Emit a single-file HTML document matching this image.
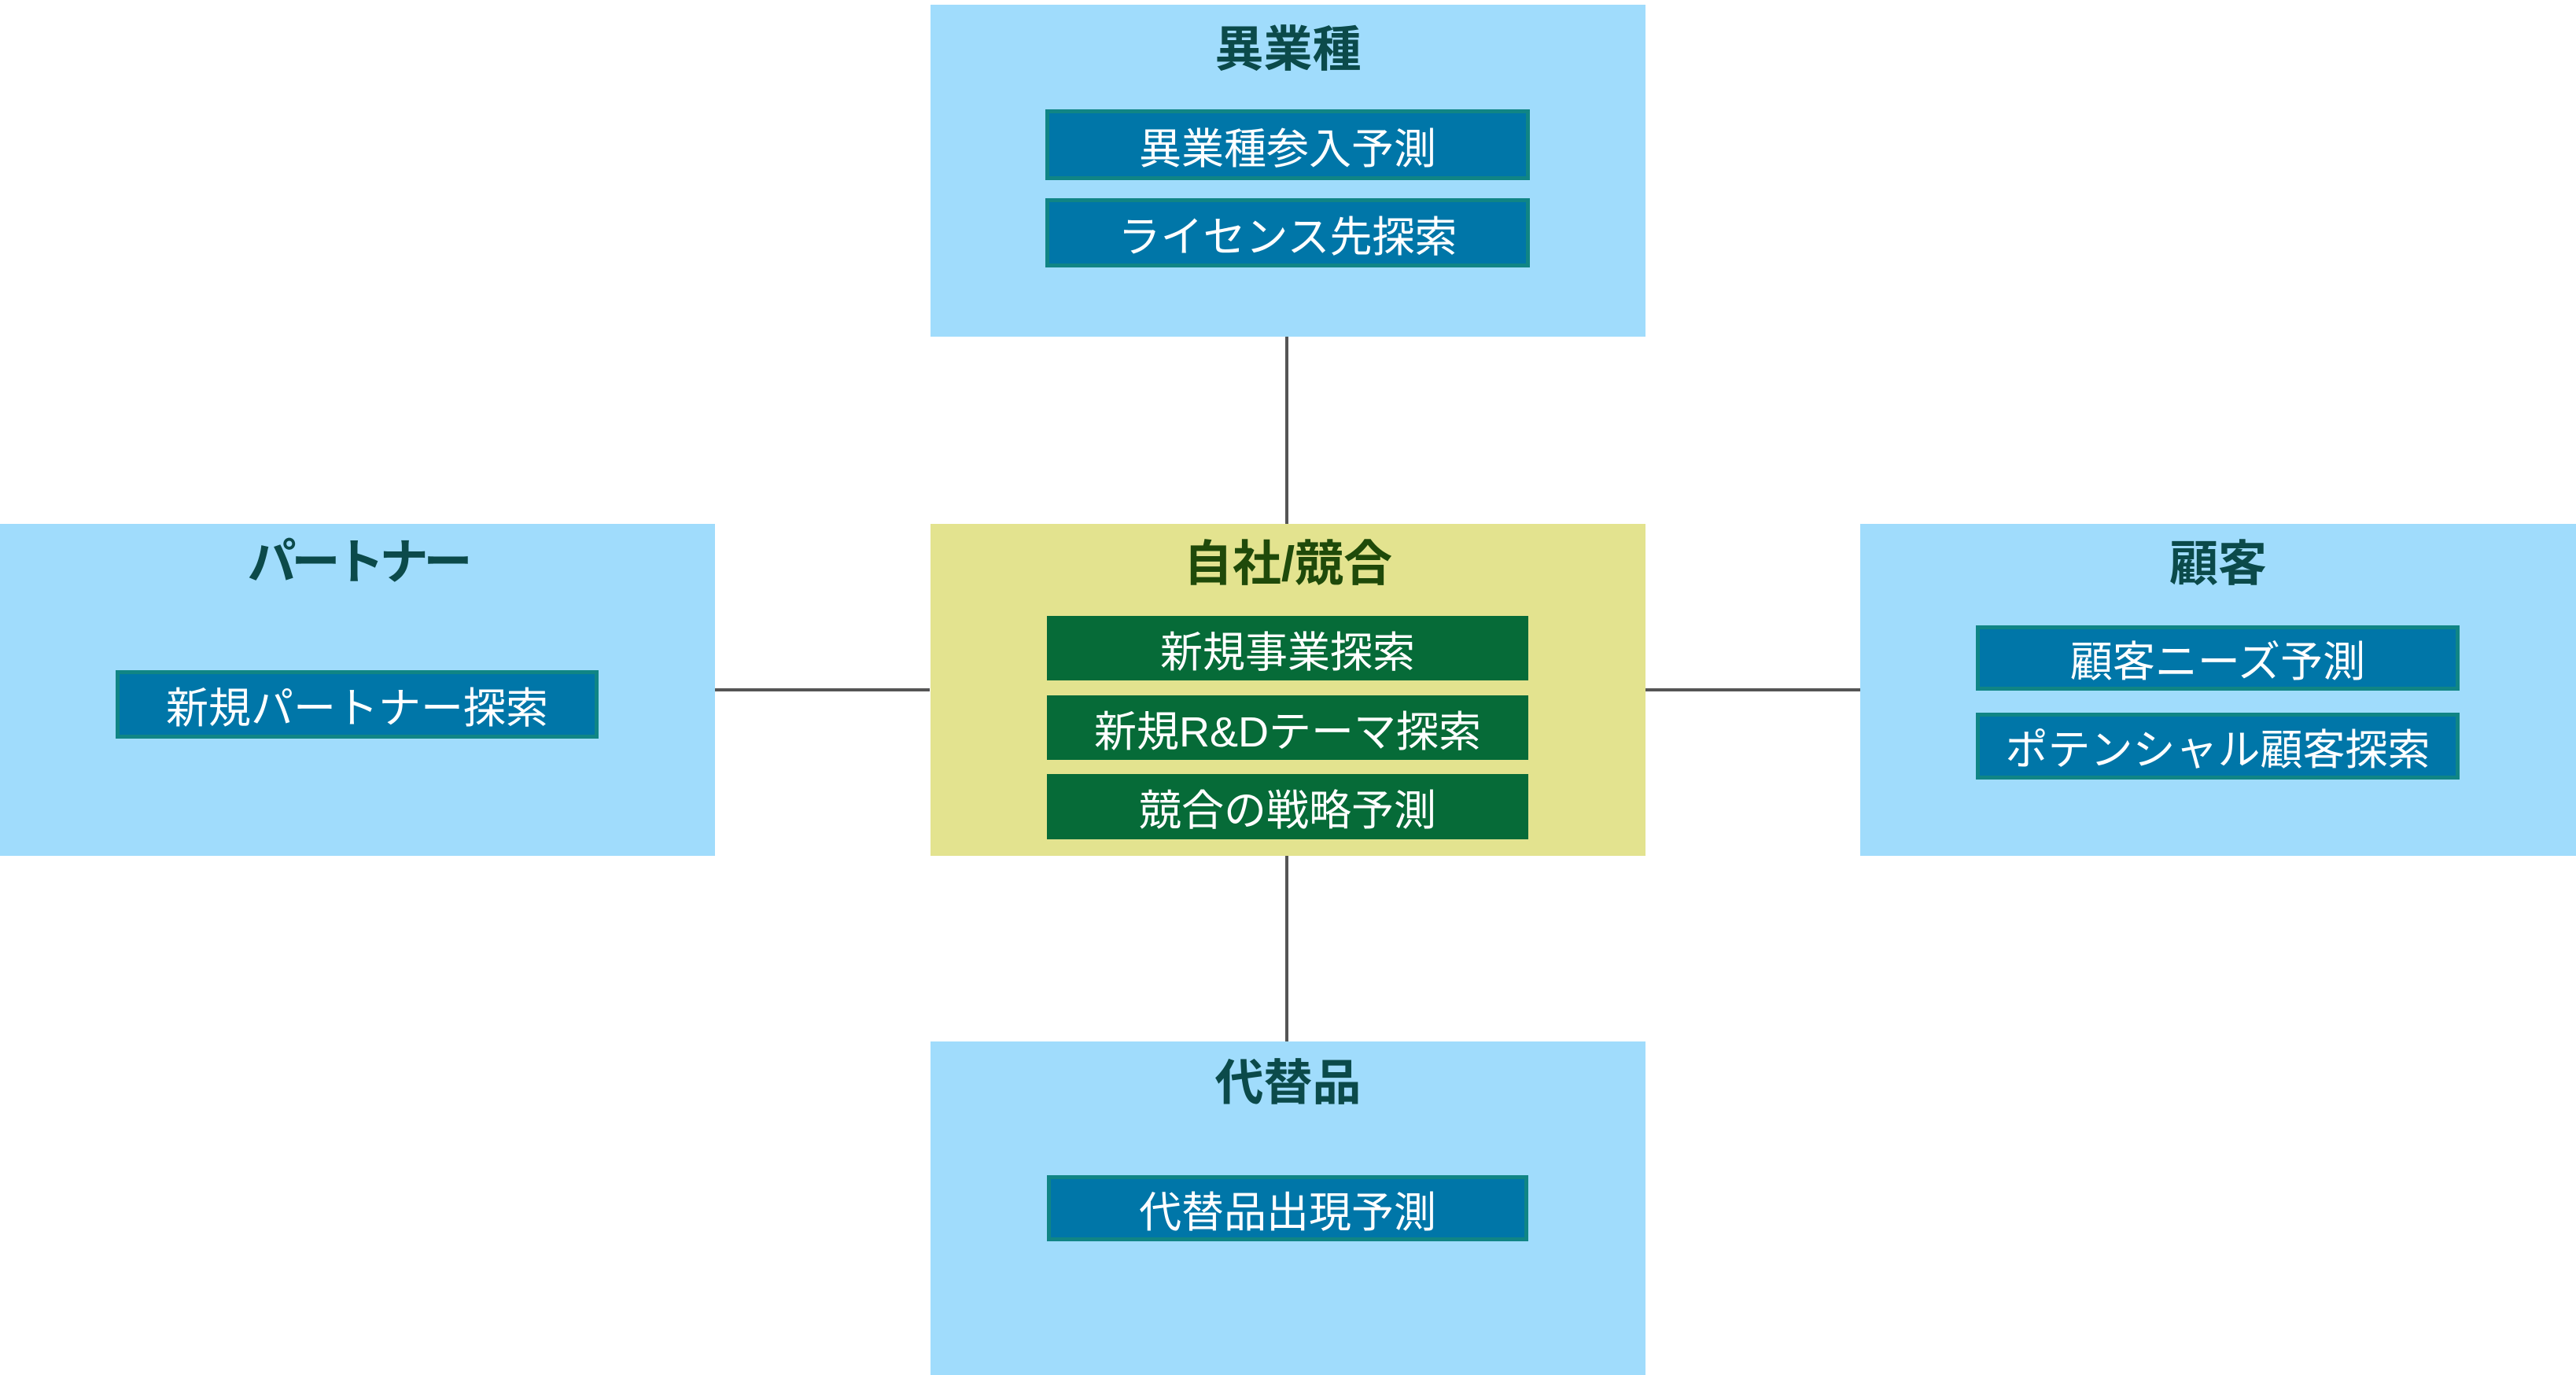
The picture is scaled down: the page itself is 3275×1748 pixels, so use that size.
<!DOCTYPE html>
<html><head><meta charset="utf-8"><style>
html,body{margin:0;padding:0;background:#fff;}
body{width:3275px;height:1748px;position:relative;overflow:hidden;font-family:"Liberation Sans","Noto Sans CJK JP",sans-serif;}
.b{position:absolute;}
.blue{background:#a0dcfc;}
.yel{background:#e3e38f;}
.t{position:absolute;left:0;right:0;text-align:center;font-weight:bold;font-size:62px;line-height:80px;}
.s{position:absolute;display:flex;align-items:center;justify-content:center;color:#fff;font-size:54px;box-sizing:border-box;}
.sb{background:#0076a8;border:5px solid #108585;}
.sg{background:#066b38;}
.l{position:absolute;background:#555;}
</style></head><body>
<div class="l" style="left:1634px;top:428px;width:4px;height:238px"></div>
<div class="l" style="left:1634px;top:1088px;width:4px;height:236px"></div>
<div class="l" style="left:909px;top:875px;width:273px;height:4px"></div>
<div class="l" style="left:2091px;top:875px;width:274px;height:4px"></div>

<div class="b blue" style="left:1183px;top:6px;width:909px;height:422px">
 <div class="t" style="top:18px;color:#0b4a4a">異業種</div>
</div>
<div class="s sb" style="left:1329px;top:139px;width:616px;height:90px">異業種参入予測</div>
<div class="s sb" style="left:1329px;top:252px;width:616px;height:88px">ライセンス先探索</div>

<div class="b yel" style="left:1183px;top:666px;width:909px;height:422px">
 <div class="t" style="top:12px;color:#1f4a0a">自社/競合</div>
</div>
<div class="s sg" style="left:1331px;top:783px;width:612px;height:82px">新規事業探索</div>
<div class="s sg" style="left:1331px;top:884px;width:612px;height:82px">新規R&amp;Dテーマ探索</div>
<div class="s sg" style="left:1331px;top:984px;width:612px;height:83px">競合の戦略予測</div>

<div class="b blue" style="left:0;top:666px;width:909px;height:422px">
 <div class="t" style="top:10px;color:#0b4a4a;letter-spacing:-6px">パートナー</div>
</div>
<div class="s sb" style="left:147px;top:852px;width:614px;height:87px">新規パートナー探索</div>

<div class="b blue" style="left:2365px;top:666px;width:910px;height:422px">
 <div class="t" style="top:12px;color:#0b4a4a">顧客</div>
</div>
<div class="s sb" style="left:2512px;top:795px;width:615px;height:83px">顧客ニーズ予測</div>
<div class="s sb" style="left:2512px;top:906px;width:615px;height:85px">ポテンシャル顧客探索</div>

<div class="b blue" style="left:1183px;top:1324px;width:909px;height:424px">
 <div class="t" style="top:14px;color:#0b4a4a">代替品</div>
</div>
<div class="s sb" style="left:1331px;top:1494px;width:612px;height:84px">代替品出現予測</div>
</body></html>
